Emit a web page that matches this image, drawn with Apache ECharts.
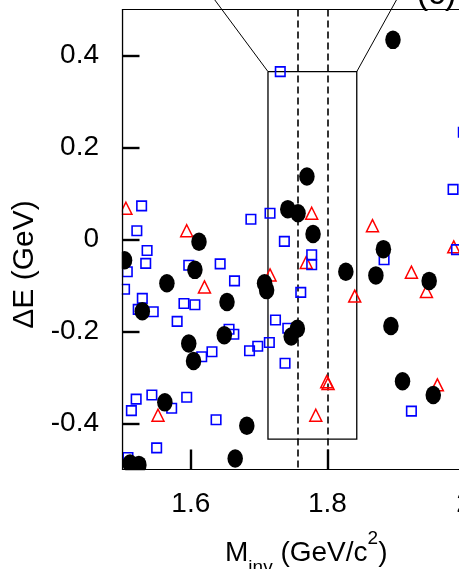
<!DOCTYPE html>
<html>
<head>
<meta charset="utf-8">
<script src="https://cdn.jsdelivr.net/npm/echarts@6/dist/echarts.min.js"></script>
<style>
  html, body { margin: 0; padding: 0; background: #fff; }
  #chart { width: 459px; height: 569px; }
</style>
</head>
<body>
<div id="chart"></div>
<script>
// Candidate events: invariant mass (GeV/c^2) vs energy difference (GeV)
const filledCircles = [
  [1.896, 0.434], [1.770, 0.137], [1.742, 0.066], [1.757, 0.057], [1.779, 0.012],
  [1.827, -0.070], [1.882, -0.021], [1.871, -0.078], [1.949, -0.090], [1.708, -0.095],
  [1.711, -0.110], [1.612, -0.005], [1.606, -0.066], [1.565, -0.095], [1.503, -0.045],
  [1.653, -0.136], [1.529, -0.156], [1.649, -0.208], [1.597, -0.226], [1.604, -0.264],
  [1.562, -0.354], [1.682, -0.405], [1.665, -0.476], [1.511, -0.487], [1.524, -0.490],
  [1.747, -0.211], [1.756, -0.194], [1.893, -0.188], [1.910, -0.308], [1.955, -0.338]
];
const openSquares = [
  [1.731, 0.365], [1.528, 0.073], [1.521, 0.019], [1.536, -0.024], [1.534, -0.052],
  [1.507, -0.070], [1.503, -0.108], [1.529, -0.128], [1.597, -0.056], [1.643, -0.053],
  [1.664, -0.090], [1.688, 0.044], [1.716, 0.057], [1.737, -0.004], [1.590, -0.139],
  [1.606, -0.142], [1.523, -0.152], [1.545, -0.157], [1.580, -0.178], [1.656, -0.195],
  [1.663, -0.206], [1.616, -0.255], [1.631, -0.244], [1.686, -0.242], [1.698, -0.232],
  [1.715, -0.224], [1.724, -0.175], [1.738, -0.269], [1.520, -0.347], [1.513, -0.372],
  [1.543, -0.338], [1.572, -0.367], [1.594, -0.343], [1.637, -0.392], [1.550, -0.453],
  [1.508, -0.474], [1.742, -0.193], [1.761, -0.115], [1.777, -0.033], [1.777, -0.055],
  [1.883, -0.044], [1.984, 0.109], [1.989, -0.022], [1.999, 0.233], [1.923, -0.373]
];
const openTriangles = [
  [1.505, 0.068], [1.594, 0.019], [1.620, -0.103], [1.716, -0.077], [1.777, 0.057],
  [1.769, -0.050], [1.866, 0.030], [1.923, -0.071], [1.945, -0.113], [1.840, -0.123],
  [1.985, -0.016], [1.552, -0.382], [1.799, -0.309], [1.801, -0.313], [1.783, -0.382],
  [1.961, -0.316]
];

// Signal window and the zoomed region
const windowX = [1.713, 1.843];
const windowY = [-0.434, 0.365];
const massCuts = [1.757, 1.8];
const connectorTops = [[1.6205, 0.55], [1.912, 0.55]];

// Axis ticks and labels
const xTicks = [1.6, 1.8, 2.0];
const yTicks = [-0.4, -0.2, 0, 0.2, 0.4];

const FONT = '"Liberation Sans", Arial, Helvetica, sans-serif';

const chart = echarts.init(document.getElementById('chart'), null, { renderer: 'canvas' });

const boxPath = [
  [windowX[0], windowY[1]], [windowX[1], windowY[1]],
  [windowX[1], windowY[0]], [windowX[0], windowY[0]],
  [windowX[0], windowY[1]]
];

chart.setOption({
  animation: false,
  backgroundColor: '#fff',
  grid: {
    left: 122.5, top: 9.5, width: 341.5, height: 460,
    outerBoundsMode: 'none', containLabel: false,
    show: true, borderColor: '#000', borderWidth: 1.2, backgroundColor: 'transparent'
  },
  xAxis: {
    type: 'value', min: 1.5, max: 2.0, z: 20,
    axisLine: { show: true, onZero: false, lineStyle: { color: '#000', width: 1.2 } },
    axisTick: { show: true, inside: true, length: 20, customValues: xTicks,
      lineStyle: { color: '#000', width: 2.4 } },
    axisLabel: {
      customValues: xTicks, margin: 21, color: '#000', fontSize: 28, fontFamily: FONT,
      hideOverlap: false,
      formatter: v => (Math.abs(v - 2) < 1e-9 ? '2' : v.toFixed(1))
    },
    splitLine: { show: false },
    name: 'M{sub|inv} (GeV/c{sup|2})',
    nameLocation: 'middle',
    nameGap: 60,
    nameTextStyle: {
      color: '#000', fontSize: 28, fontFamily: FONT, lineHeight: 48,
      padding: [0, 0, 0, 26],
      rich: {
        sub: { fontSize: 19, fontFamily: FONT, color: '#000', lineHeight: 26, verticalAlign: 'bottom' },
        sup: { fontSize: 19, fontFamily: FONT, color: '#000', lineHeight: 10, verticalAlign: 'top' }
      }
    }
  },
  yAxis: {
    type: 'value', min: -0.5, max: 0.5, z: 20,
    axisLine: { show: true, onZero: false, lineStyle: { color: '#000', width: 1.2 } },
    axisTick: { show: true, inside: true, length: 17, customValues: yTicks,
      lineStyle: { color: '#000', width: 2.4 } },
    axisLabel: {
      customValues: yTicks, margin: 23.5, color: '#000', fontSize: 28, fontFamily: FONT,
      padding: [6, 0, 0, 0],
      formatter: v => (Math.abs(v) < 1e-9 ? '0' : v.toFixed(1))
    },
    splitLine: { show: false },
    name: 'ΔE (GeV)',
    nameLocation: 'middle',
    nameGap: 77,
    nameTextStyle: {
      color: '#000', fontSize: 30, fontFamily: FONT,
      padding: [0, 50, 0, 0]
    }
  },
  graphic: [
    // masks so markers stop at the frame edges
    { type: 'rect', z: 10, silent: true, shape: { x: 99, y: 0, width: 22.8, height: 470 }, style: { fill: '#fff' } },
    { type: 'rect', z: 10, silent: true, shape: { x: 99, y: 470.2, width: 360, height: 17 }, style: { fill: '#fff' } },
    { type: 'text', z: 30, style: { text: '(c)', x: 436.5, y: -5, align: 'center', verticalAlign: 'middle',
        font: '34px ' + FONT, fill: '#000' } }
  ],
  series: [
    {
      type: 'lines', coordinateSystem: 'cartesian2d', polyline: true, clip: false, z: 1, silent: true,
      lineStyle: { color: '#000', width: 1.3, opacity: 1 },
      data: [{ coords: boxPath }]
    },
    {
      type: 'lines', coordinateSystem: 'cartesian2d', clip: false, z: 1, silent: true,
      lineStyle: { color: '#000', width: 1, opacity: 1 },
      data: [
        { coords: [[windowX[0], windowY[1]], connectorTops[0]] },
        { coords: [[windowX[1], windowY[1]], connectorTops[1]] }
      ]
    },
    {
      type: 'lines', coordinateSystem: 'cartesian2d', clip: true, z: 1, silent: true,
      lineStyle: { color: '#000', width: 1.6, opacity: 1, type: [7, 4] },
      data: massCuts.map(m => ({ coords: [[m, 0.5], [m, -0.5]] }))
    },
    {
      name: 'triangles', type: 'scatter', z: 2, symbol: 'triangle', symbolSize: 12,
      itemStyle: { color: 'rgba(0,0,0,0)', borderColor: '#ff0000', borderWidth: 1.5, opacity: 1 },
      data: openTriangles
    },
    {
      name: 'squares', type: 'scatter', z: 2, symbol: 'rect', symbolSize: 9.5,
      itemStyle: { color: 'rgba(0,0,0,0)', borderColor: '#0000ff', borderWidth: 1.6, opacity: 1 },
      data: openSquares
    },
    {
      name: 'circles', type: 'scatter', z: 2, symbol: 'circle', symbolSize: [15.5, 18.5],
      itemStyle: { color: '#000', opacity: 1 },
      data: filledCircles
    }
  ]
});
</script>
</body>
</html>
